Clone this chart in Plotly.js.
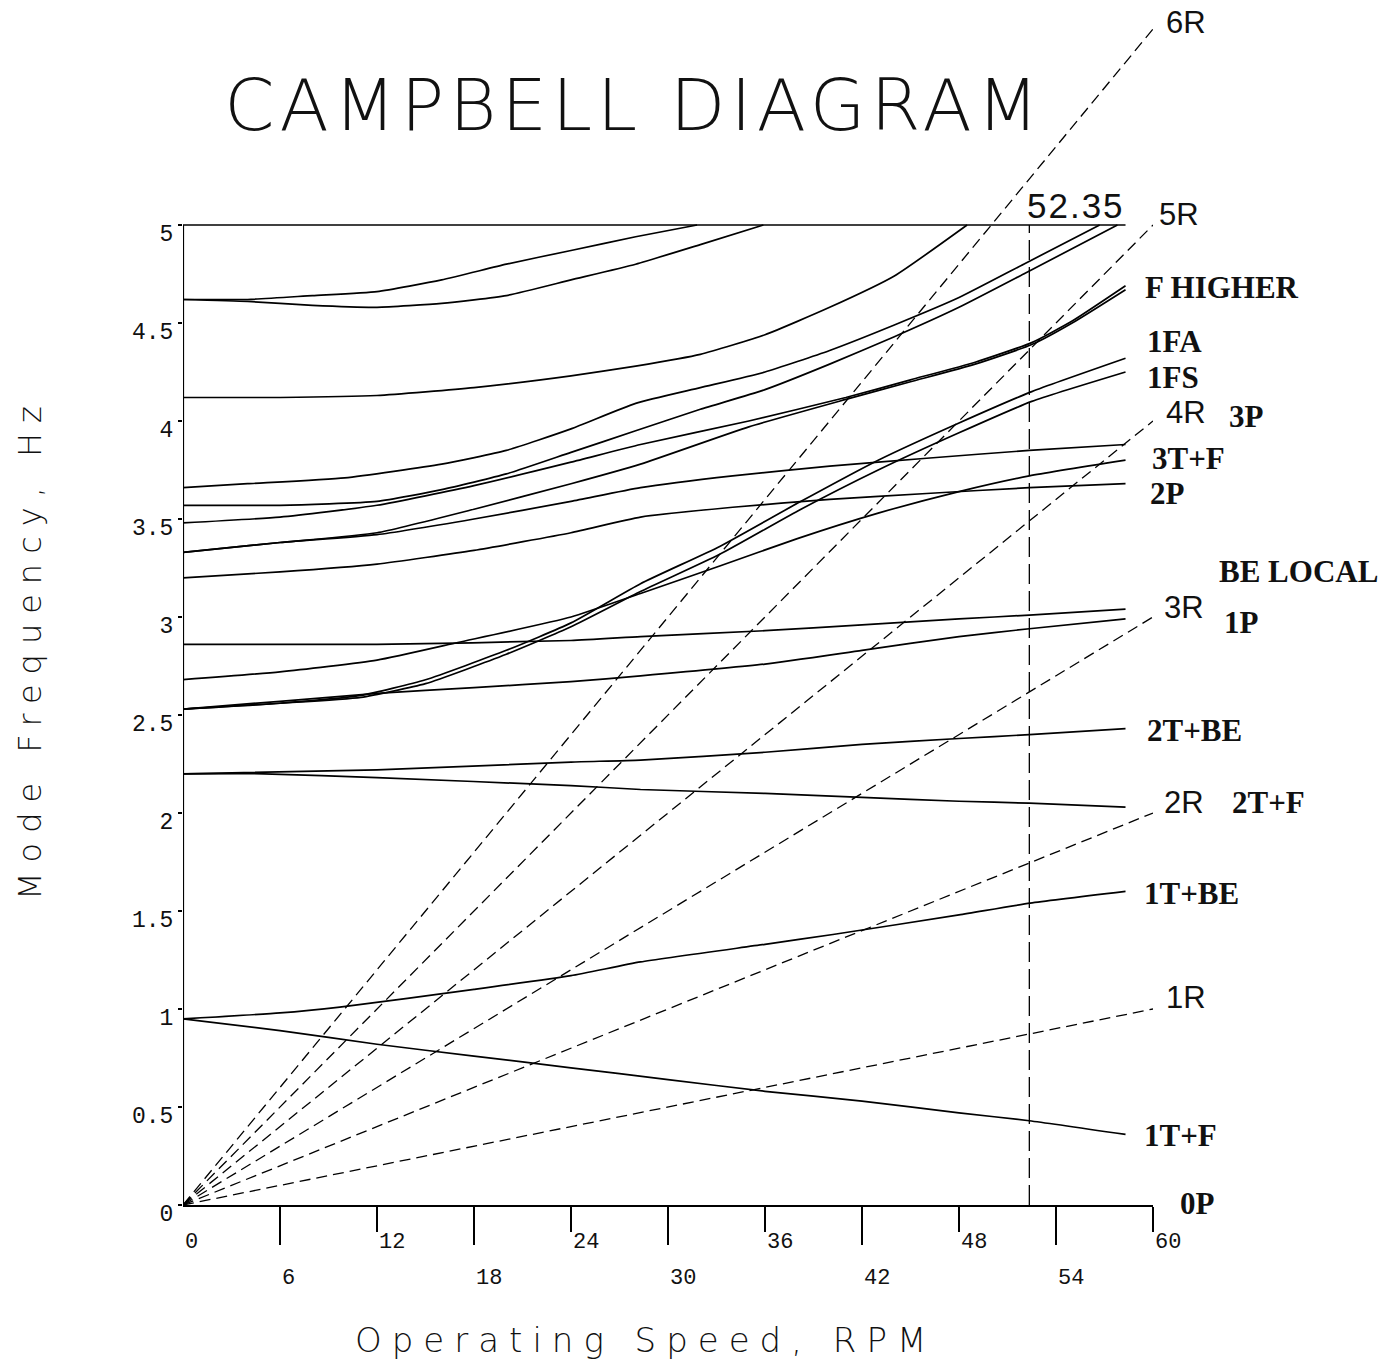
<!DOCTYPE html>
<html>
<head>
<meta charset="utf-8">
<script src="https://cdn.plot.ly/plotly-3.0.1.min.js"></script>
<style>html,body{margin:0;padding:0;background:#fff;}</style>
</head>
<body>
<div id="chart" style="width:1386px;height:1362px;"></div>
<script>
// ---------------- DATA ----------------
const criticalSpeed = 52.35;          // RPM, vertical marker
const curveEndSpeed = 58.3;           // RPM where the mode curves stop
const harmonicOrders = [1, 2, 3, 4, 5, 6];
const harmonicSpeeds = [0, 60];
const harmonicNames = ['1R', '2R', '3R', '4R', '5R', '6R'];

// mode curves (speed RPM, frequency Hz)
const speedA = [0, 4, 8, 12, 16, 20, 24, 28, 31.8];
const freqA  = [4.62, 4.62, 4.64, 4.66, 4.72, 4.80, 4.87, 4.94, 5.0];
const speedB = [0, 4, 8, 12, 16, 20, 24, 28, 32, 35.9];
const freqB  = [4.62, 4.61, 4.59, 4.58, 4.60, 4.64, 4.72, 4.80, 4.90, 5.0];
const speedC = [0, 6, 12, 18, 24, 28, 32, 36, 40, 44, 48.5];
const freqC  = [4.12, 4.12, 4.13, 4.17, 4.23, 4.28, 4.34, 4.44, 4.58, 4.74, 5.0];
const speedD = [0, 4, 10, 16, 20, 24, 28, 32, 36, 40, 44, 48, 52, 56.7];
const freqD  = [3.66, 3.68, 3.71, 3.78, 3.85, 3.96, 4.09, 4.17, 4.25, 4.36, 4.49, 4.63, 4.80, 5.0];
const speedE = [0, 6, 12, 16, 20, 24, 28, 32, 36, 40, 44, 48, 52, 57.8];
const freqE  = [3.57, 3.57, 3.59, 3.65, 3.73, 3.84, 3.95, 4.06, 4.16, 4.29, 4.43, 4.58, 4.75, 5.0];
const speedF = [0, 6, 12, 18, 24, 28.3, 35, 41, 45, 49, 52.5, 55, 58.3];
const freqF  = [3.48, 3.51, 3.57, 3.67, 3.79, 3.88, 4.00, 4.12, 4.21, 4.30, 4.40, 4.51, 4.69];
const speedG = [0, 6, 12, 18, 24, 28.3, 35, 41, 45, 49, 52.5, 55, 58.3];
const freqG  = [3.33, 3.38, 3.43, 3.55, 3.68, 3.78, 3.97, 4.11, 4.20, 4.29, 4.39, 4.50, 4.67];
const speedH = [0, 6, 12, 18, 24, 28.3, 34, 40, 46, 52.35, 58.3];
const freqH  = [3.33, 3.38, 3.42, 3.50, 3.59, 3.66, 3.72, 3.77, 3.81, 3.85, 3.88];
const speedI = [0, 6, 12, 18, 24, 28.3, 34, 40, 46, 52.35, 58.3];
const freqI  = [3.20, 3.23, 3.27, 3.34, 3.43, 3.51, 3.56, 3.60, 3.63, 3.66, 3.68];
const speedJ = [0, 6, 11, 15, 20, 24, 28.3, 33.2, 38, 43, 48, 52.5, 58.3];
const freqJ  = [2.53, 2.56, 2.60, 2.68, 2.83, 2.97, 3.17, 3.36, 3.58, 3.80, 3.99, 4.15, 4.32];
const speedK = [0, 6, 11, 15, 20, 24, 28.3, 33.2, 38, 43, 48, 52.5, 58.3];
const freqK  = [2.53, 2.56, 2.59, 2.66, 2.81, 2.95, 3.13, 3.32, 3.54, 3.75, 3.94, 4.10, 4.25];
const speedL = [0, 6, 12, 17, 24, 28.3, 33.2, 38, 43, 48, 52.35, 58.3];
const freqL  = [2.68, 2.72, 2.78, 2.87, 3.00, 3.12, 3.26, 3.40, 3.53, 3.64, 3.72, 3.80];
const speedM = [0, 6, 12, 18, 24, 28.3, 36, 42, 48, 52.35, 58.3];
const freqM  = [2.53, 2.57, 2.61, 2.64, 2.67, 2.70, 2.76, 2.83, 2.90, 2.94, 2.99];
const speedN = [0, 12, 24, 28.3, 36, 42, 48, 52.35, 58.3];
const freqN  = [2.86, 2.86, 2.88, 2.90, 2.93, 2.96, 2.99, 3.01, 3.04];
const speed2TBE = [0, 12, 24, 28.3, 36, 42, 48, 52.35, 58.3];
const freq2TBE  = [2.20, 2.22, 2.26, 2.27, 2.31, 2.35, 2.38, 2.40, 2.43];
const speed2TF  = [0, 5, 12, 24, 28.3, 36, 42, 48, 52.35, 58.3];
const freq2TF   = [2.20, 2.20, 2.18, 2.14, 2.12, 2.10, 2.08, 2.06, 2.05, 2.03];
const speed1TBE = [0, 6, 9.7, 18, 24, 28.3, 36, 40.2, 48, 52.4, 58.3];
const freq1TBE  = [0.95, 0.98, 1.01, 1.10, 1.17, 1.24, 1.33, 1.38, 1.48, 1.54, 1.60];
const speed1TF  = [0, 6, 12, 18, 24, 30, 36, 42, 48, 52.35, 58.3];
const freq1TF   = [0.95, 0.89, 0.82, 0.76, 0.70, 0.64, 0.58, 0.53, 0.47, 0.43, 0.36];

const modeSpeeds = [speedA, speedB, speedC, speedD, speedE, speedF, speedG, speedH, speedI,
                    speedJ, speedK, speedL, speedM, speedN, speed2TBE, speed2TF, speed1TBE, speed1TF];
const modeFreqs  = [freqA, freqB, freqC, freqD, freqE, freqF, freqG, freqH, freqI,
                    freqJ, freqK, freqL, freqM, freqN, freq2TBE, freq2TF, freq1TBE, freq1TF];

// axis ticks
const yTickVals = [0, 0.5, 1, 1.5, 2, 2.5, 3, 3.5, 4, 4.5, 5];
const yTickText = ['0', '0.5', '1', '1.5', '2', '2.5', '3', '3.5', '4', '4.5', '5'];
const xTicksUpperRow = [0, 12, 24, 36, 48, 60];
const xTicksLowerRow = [6, 18, 30, 42, 54];

// labels at the right-hand side (mode names: bold serif; harmonic names: sans)
const modeLabels = ['F HIGHER', '1FA', '1FS', '3P', '3T+F', '2P', 'BE LOCAL', '1P', '2T+BE', '2T+F', '1T+BE', '1T+F', '0P'];
const harmonicLabelOrder = ['6R', '5R', '4R', '3R', '2R', '1R'];

// ---------------- TRACES ----------------
const traces = [];
modeSpeeds.forEach((sx, i) => {
  traces.push({
    type: 'scatter', mode: 'lines', x: sx, y: modeFreqs[i],
    line: {color: '#000', width: 1.7, shape: 'spline', smoothing: 0.5}, hoverinfo: 'x+y', showlegend: false
  });
});
harmonicOrders.forEach((n) => {
  traces.push({
    type: 'scatter', mode: 'lines', x: harmonicSpeeds,
    y: harmonicSpeeds.map(s => n * s / 60),
    line: {color: '#000', width: 1.3, dash: '11px,6px'}, hoverinfo: 'x+y', showlegend: false
  });
});

// ---------------- LAYOUT ----------------
// plot area in pixels: left 183, right 1153, top 10, bottom 1205
const PL = 183, PR = 1153, PT = 10, PB = 1205;
const px2x = px => (px - PL) / (PR - PL);
const px2y = py => (PB - py) / (PB - PT);

const modeLabelPos = [[1143, 287], [1145, 342], [1145, 377], [1227, 417], [1150, 459], [1148, 493],
                      [1217, 571], [1222, 622], [1145, 730], [1230, 802], [1142, 893], [1142, 1135], [1178, 1203]];
const harmLabelPos = [[1164, 22], [1157, 214], [1164, 412], [1162, 607], [1162, 802], [1164, 997]];

const annotations = [];
const tickFont = {family: 'Liberation Mono, DejaVu Sans Mono, monospace', size: 22, color: '#111'};
xTicksUpperRow.forEach(v => annotations.push({
  x: v, xref: 'x', y: 0, yref: 'y', yshift: -37, text: String(v), showarrow: false,
  xanchor: 'left', yanchor: 'middle', font: tickFont
}));
xTicksLowerRow.forEach(v => annotations.push({
  x: v, xref: 'x', y: 0, yref: 'y', yshift: -73, text: String(v), showarrow: false,
  xanchor: 'left', yanchor: 'middle', font: tickFont
}));
modeLabels.forEach((t, i) => annotations.push({
  x: px2x(modeLabelPos[i][0]), xref: 'paper', y: px2y(modeLabelPos[i][1]), yref: 'paper',
  text: '<b>' + t + '</b>', showarrow: false, xanchor: 'left', yanchor: 'middle',
  font: {family: 'Liberation Serif, Times New Roman, serif', size: 31, color: '#111'}
}));
harmonicLabelOrder.forEach((t, i) => annotations.push({
  x: px2x(harmLabelPos[i][0]), xref: 'paper', y: px2y(harmLabelPos[i][1]), yref: 'paper',
  text: t, showarrow: false, xanchor: 'left', yanchor: 'middle',
  font: {family: 'Liberation Sans, Arial, sans-serif', size: 31, color: '#111'}
}));
annotations.push({
  x: px2x(1030), xref: 'paper', y: px2y(205), yref: 'paper', text: criticalSpeed.toFixed(2),
  showarrow: false, xanchor: 'left', yanchor: 'middle',
  font: {family: 'Liberation Sans, Arial, sans-serif', size: 35, color: '#111'}
});
annotations.push({
  x: px2x(30), xref: 'paper', y: px2y(648), yref: 'paper', text: 'Mode Frequency, Hz', textangle: -90,
  showarrow: false, xanchor: 'center', yanchor: 'middle',
  font: {family: 'DejaVu Sans, sans-serif', size: 32, weight: 200, color: '#111'}
});
annotations.push({
  x: px2x(645), xref: 'paper', y: px2y(1340), yref: 'paper', text: 'Operating Speed, RPM',
  showarrow: false, xanchor: 'center', yanchor: 'middle',
  font: {family: 'DejaVu Sans, sans-serif', size: 34, weight: 200, color: '#111'}
});

const layout = {
  width: 1386, height: 1362,
  paper_bgcolor: '#fff', plot_bgcolor: '#fff',
  margin: {l: PL, r: 1386 - PR, t: PT, b: 1362 - PB},
  showlegend: false,
  title: {
    text: 'CAMPBELL DIAGRAM', x: 0.4575, xref: 'container', xanchor: 'center',
    y: 0.923, yref: 'container', yanchor: 'middle',
    font: {family: 'DejaVu Sans, sans-serif', size: 72, weight: 200, color: '#111'}
  },
  xaxis: {
    range: [0, 60], showgrid: false, zeroline: false,
    showline: true, linecolor: '#000', linewidth: 2,
    tickmode: 'array', tickvals: xTicksLowerRow, ticks: 'outside', ticklen: 38, tickwidth: 2, tickcolor: '#000',
    showticklabels: false,
    minor: {tickmode: 'array', tickvals: xTicksUpperRow.slice(1), ticks: 'outside', ticklen: 25, tickwidth: 2, tickcolor: '#000'}
  },
  yaxis: {
    range: [0, (PB - PT) / 196], showgrid: false, zeroline: false, showline: false,
    tickmode: 'array', tickvals: yTickVals, ticktext: yTickText,
    ticks: 'outside', ticklen: 4, tickwidth: 1.5, tickcolor: '#000',
    ticklabelshift: 8, ticklabelstandoff: 0,
    tickfont: {family: 'Liberation Mono, DejaVu Sans Mono, monospace', size: 23, color: '#111'}
  },
  shapes: [
    {type: 'line', xref: 'x', yref: 'y', x0: 0, x1: 0, y0: 0, y1: 5, line: {color: '#000', width: 2.2}},
    {type: 'line', xref: 'x', yref: 'y', x0: 0, x1: curveEndSpeed, y0: 5, y1: 5, line: {color: '#000', width: 1.7}},
    {type: 'line', xref: 'x', yref: 'y', x0: criticalSpeed, x1: criticalSpeed, y0: 0, y1: 5,
     line: {color: '#000', width: 1.3, dash: '20px,7px'}}
  ],
  annotations: annotations
};

Plotly.newPlot('chart', traces, layout, {displayModeBar: false, staticPlot: true}).then(() => {
  document.querySelectorAll('.annotation-text').forEach(el => {
    const t = el.textContent;
    if (t === 'Mode Frequency, Hz') el.style.letterSpacing = '10px';
    if (t === 'Operating Speed, RPM') el.style.letterSpacing = '10px';
    if (t === '52.35') el.style.letterSpacing = '2px';
  });
  const gt = document.querySelector('.gtitle');
  if (gt) gt.style.letterSpacing = '5px';
});
</script>
</body>
</html>
